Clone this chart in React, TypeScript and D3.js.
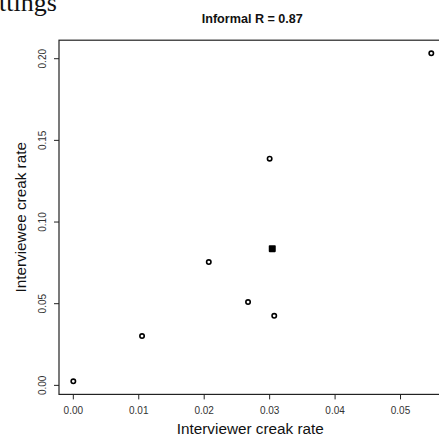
import React from "react";
import * as d3 from "d3";

const interviewerRate = [0.0, 0.0105, 0.0207, 0.0267, 0.0307, 0.03, 0.0547];
const intervieweeRate = [0.0025, 0.0302, 0.0755, 0.051, 0.0426, 0.1388, 0.2033];
const highlightX = [0.0304];
const highlightY = [0.0837];
const xTicks = [0, 0.01, 0.02, 0.03, 0.04, 0.05];
const yTicks = [0, 0.05, 0.1, 0.15, 0.2];
const title = "Informal R = 0.87";
const xLabel = "Interviewer creak rate";
const yLabel = "Interviewee creak rate";

const W = 439;
const H = 436;
const left = 59;
const right = 445.6;
const top = 40.2;
const bottom = 394.4;

function padExtent(vals: number[]): [number, number] {
  const [a, b] = d3.extent(vals) as [number, number];
  const p = (b - a) * 0.04;
  return [a - p, b + p];
}

export default function App() {
  const allX = [...interviewerRate, ...highlightX];
  const allY = [...intervieweeRate, ...highlightY];
  const x = d3.scaleLinear().domain(padExtent(allX)).range([left, right]);
  const y = d3.scaleLinear().domain(padExtent(allY)).range([bottom, top]);
  const font = "Liberation Sans, Arial, sans-serif";
  const cx = (left + right) / 2;
  const cy = (top + bottom) / 2;
  return (
    <svg
      width={W}
      height={H}
      style={{ position: "absolute", left: 0, top: 0, background: "#fff" }}
    >
      <text
        x={-1}
        y={11}
        fontFamily="Liberation Serif, Times New Roman, serif"
        fontSize={26}
        fill="#111"
      >
        ttings
      </text>
      <text
        x={cx}
        y={22.5}
        textAnchor="middle"
        fontFamily={font}
        fontWeight="bold"
        fontSize={12.6}
        fill="#111"
      >
        {title}
      </text>
      <rect
        x={left}
        y={top}
        width={right - left}
        height={bottom - top}
        fill="none"
        stroke="#222"
        strokeWidth={1.2}
      />
      {xTicks.map((t) => (
        <g key={"x" + t}>
          <line x1={x(t)} x2={x(t)} y1={bottom} y2={bottom + 5} stroke="#222" />
          <text
            x={x(t)}
            y={414}
            textAnchor="middle"
            fontFamily={font}
            fontSize={10}
            fill="#333"
          >
            {d3.format(".2f")(t)}
          </text>
        </g>
      ))}
      {yTicks.map((t) => (
        <g key={"y" + t}>
          <line x1={left - 5} x2={left} y1={y(t)} y2={y(t)} stroke="#222" />
          <text
            transform={`translate(${45.8},${y(t)}) rotate(-90)`}
            textAnchor="middle"
            fontFamily={font}
            fontSize={10}
            fill="#333"
          >
            {d3.format(".2f")(t)}
          </text>
        </g>
      ))}
      <text
        x={cx - 2}
        y={434.2}
        textAnchor="middle"
        fontFamily={font}
        fontSize={15.3}
        fill="#111"
      >
        {xLabel}
      </text>
      <text
        transform={`translate(${26},${cy}) rotate(-90)`}
        textAnchor="middle"
        fontFamily={font}
        fontSize={15.3}
        fill="#111"
      >
        {yLabel}
      </text>
      {interviewerRate.map((v, i) => (
        <circle
          key={"p" + i}
          cx={x(v)}
          cy={y(intervieweeRate[i])}
          r={2.2}
          fill="none"
          stroke="#000"
          strokeWidth={1.6}
        />
      ))}
      {highlightX.map((v, i) => (
        <rect
          key={"h" + i}
          x={x(v) - 3.5}
          y={y(highlightY[i]) - 3.5}
          width={7}
          height={7}
          rx={0.8}
          fill="#000"
        />
      ))}
    </svg>
  );
}
